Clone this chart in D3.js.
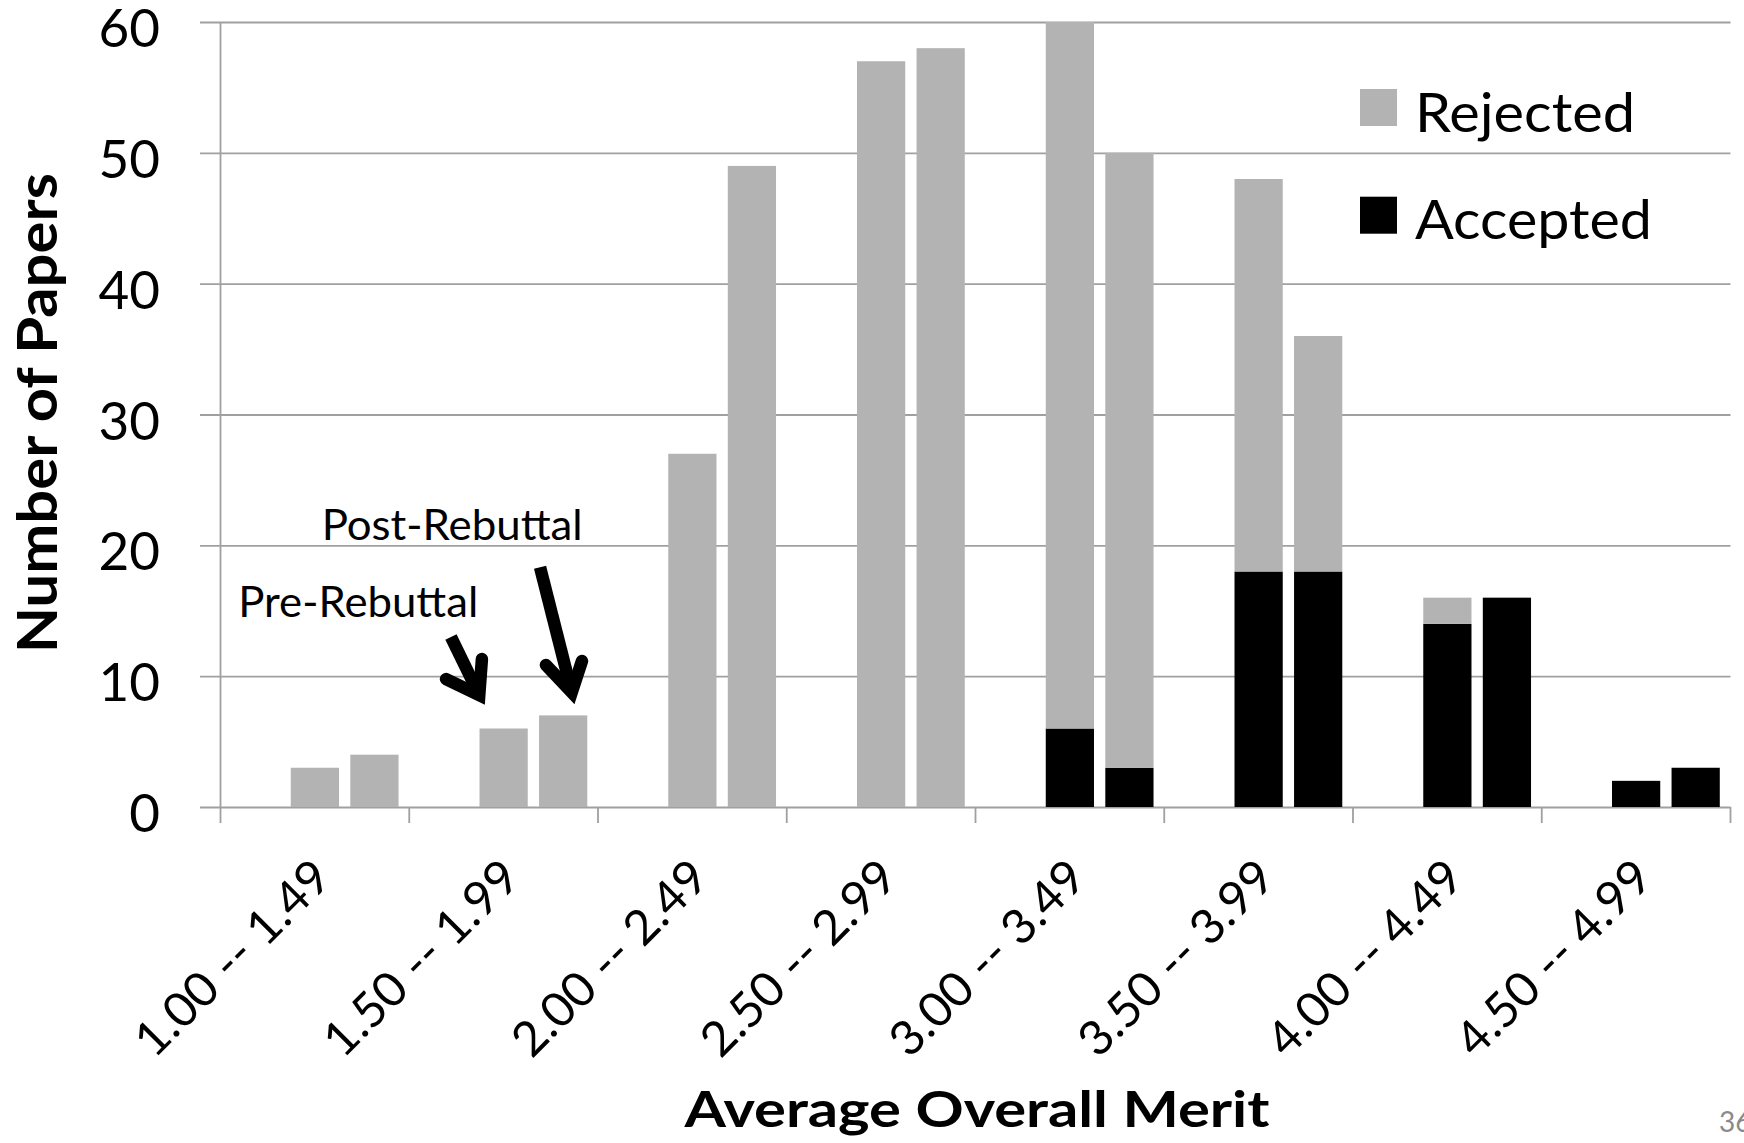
<!DOCTYPE html>
<html>
<head>
<meta charset="utf-8">
<script src="https://cdn.jsdelivr.net/npm/d3@7"></script>
<style>
  html, body { margin: 0; padding: 0; background: #fff; }
  svg { display: block; font-family: Lato, "Open Sans", sans-serif; }
</style>
</head>
<body>
<svg id="chart" width="1744" height="1143"></svg>
<script>
// ---------------- data ----------------
const categories = ["1.00 -- 1.49", "1.50 -- 1.99", "2.00 -- 2.49", "2.50 -- 2.99",
                    "3.00 -- 3.49", "3.50 -- 3.99", "4.00 -- 4.49", "4.50 -- 4.99"];
const phases = ["pre", "post"];
const preRejected  = [3, 6, 27, 57, 54, 30, 2, 0];
const preAccepted  = [0, 0, 0, 0, 6, 18, 14, 2];
const postRejected = [4, 7, 49, 58, 47, 18, 0, 0];
const postAccepted = [0, 0, 0, 0, 3, 18, 16, 3];
const yTicks = [0, 10, 20, 30, 40, 50, 60];
const legendItems = ["Rejected", "Accepted"];
const xTitle = "Average Overall Merit";
const yTitle = "Number of Papers";
// annotation arrows, in data coordinates (category index, value)
const preArrow  = {tail: [1.221, 13.00], tip: [1.371, 8.55], wingL: [1.195, 9.78], wingR: [1.385, 11.31]};
const postArrow = {tail: [1.693, 18.32], tip: [1.861, 8.76], wingL: [1.724, 10.85], wingR: [1.915, 11.16]};
const annoLabels = [
  {text: "Post-Rebuttal", at: [0.536, 20.41], len: 261},
  {text: "Pre-Rebuttal",  at: [0.094, 14.55], len: 240}
];
const pageNumber = "36";

(function () {
// ---------------- setup ----------------
const svg = d3.select("#chart");
const pLeft = 220.5, pRight = 1730.5, pTop = 22, pBottom = 807;
const GREY = "#b3b3b3", GRID = "#a0a0a0";

const x = d3.scaleBand().domain(categories).range([pLeft, pRight]).padding(0);
const x1 = d3.scaleBand().domain(["blank", "pre", "post"]).range([0, x.bandwidth()])
  .paddingInner(0.19).paddingOuter(0.18);
const y = d3.scaleLinear().domain([0, 60]).range([pBottom, pTop]);
const xi = d3.scaleLinear().domain([0, categories.length]).range([pLeft, pRight]);

svg.append("rect").attr("width", 1744).attr("height", 1143).attr("fill", "#fff");

// gridlines (extend left of axis as ticks)
const gridAxis = d3.axisLeft(y).tickValues(yTicks).tickSize(pRight - 200).tickFormat("");
svg.append("g").attr("transform", `translate(${pRight},0)`).call(gridAxis)
  .call(g => g.select(".domain").remove())
  .call(g => g.selectAll("line").attr("stroke", GRID).attr("stroke-width", 1.8));

// y tick labels
const yAxis = d3.axisLeft(y).tickValues(yTicks).tickSizeInner(0).tickSizeOuter(0).tickPadding(pLeft - 160);
svg.append("g").attr("transform", `translate(${pLeft},0)`).call(yAxis)
  .call(g => g.select(".domain").remove())
  .call(g => g.selectAll("line").remove())
  .call(g => g.selectAll("text")
    .attr("font-family", "Lato, sans-serif").attr("font-size", 53)
    .attr("fill", "#000").attr("dy", "0.465em"));

// y axis line
svg.append("line").attr("x1", pLeft).attr("x2", pLeft).attr("y1", y(60)).attr("y2", y(0))
  .attr("stroke", GRID).attr("stroke-width", 1.8);

// x ticks at category boundaries
const boundaries = d3.range(categories.length + 1).map(i => xi(i));
svg.append("g").selectAll("line").data(boundaries).join("line")
  .attr("x1", d => d).attr("x2", d => d)
  .attr("y1", y(0)).attr("y2", y(0) + 16)
  .attr("stroke", GRID).attr("stroke-width", 1.8);

// ---------------- bars ----------------
const barData = [];
categories.forEach((c, i) => {
  phases.forEach(p => {
    const acc = p === "pre" ? preAccepted[i] : postAccepted[i];
    const rej = p === "pre" ? preRejected[i] : postRejected[i];
    if (acc > 0) barData.push({c, p, y0: 0, y1: acc, color: "#000"});
    if (rej > 0) barData.push({c, p, y0: acc, y1: acc + rej, color: GREY});
  });
});
svg.append("g").selectAll("rect").data(barData).join("rect")
  .attr("x", d => x(d.c) + x1(d.p))
  .attr("width", x1.bandwidth())
  .attr("y", d => y(d.y1))
  .attr("height", d => y(d.y0) - y(d.y1))
  .attr("fill", d => d.color);

// ---------------- x tick labels ----------------
svg.append("g").selectAll("text").data(categories).join("text")
  .attr("transform", d => `translate(${x(d) + x.bandwidth() / 2 + 19},${y(0) + 73}) rotate(-45)`)
  .attr("text-anchor", "end")
  .attr("font-size", 48)
  .attr("textLength", 254).attr("lengthAdjust", "spacingAndGlyphs")
  .attr("fill", "#000")
  .text(d => d);

// ---------------- axis titles ----------------
svg.append("text")
  .attr("x", 977).attr("y", 1126.7)
  .attr("text-anchor", "middle")
  .attr("font-size", 49).attr("font-weight", "bold")
  .attr("textLength", 585).attr("lengthAdjust", "spacingAndGlyphs")
  .text(xTitle);

svg.append("text")
  .attr("transform", `translate(57,413) rotate(-90)`)
  .attr("text-anchor", "middle")
  .attr("font-size", 56).attr("font-weight", "bold")
  .attr("textLength", 480).attr("lengthAdjust", "spacingAndGlyphs")
  .text(yTitle);

// ---------------- legend ----------------
const legendColors = {Rejected: GREY, Accepted: "#000"};
const legendLens = {Rejected: 220, Accepted: 237};
const lg = svg.append("g").selectAll("g").data(legendItems).join("g")
  .attr("transform", (d, i) => `translate(1360,${89 + i * 107.7})`);
lg.append("rect").attr("width", 37).attr("height", 37).attr("fill", d => legendColors[d]);
lg.append("text").attr("x", 55).attr("y", 42.7)
  .attr("font-size", 54)
  .attr("textLength", d => legendLens[d]).attr("lengthAdjust", "spacingAndGlyphs")
  .text(d => d);

// ---------------- annotations ----------------
svg.append("g").selectAll("text").data(annoLabels).join("text")
  .attr("x", d => xi(d.at[0])).attr("y", d => y(d.at[1]))
  .attr("font-size", 42)
  .attr("textLength", d => d.len).attr("lengthAdjust", "spacingAndGlyphs")
  .text(d => d.text);

const pt = a => [xi(a[0]), y(a[1])];
[preArrow, postArrow].forEach(a => {
  const g = svg.append("g").attr("fill", "none").attr("stroke", "#000").attr("stroke-width", 12.5);
  g.append("path").attr("d", d3.line()([pt(a.tail), pt(a.tip)])).attr("stroke-linecap", "butt");
  g.append("path").attr("d", d3.line()([pt(a.wingL), pt(a.tip), pt(a.wingR)]))
    .attr("stroke-linecap", "round").attr("stroke-linejoin", "miter").attr("stroke-miterlimit", 10);
});

// page number
svg.append("text").attr("x", 1719).attr("y", 1131.7)
  .attr("font-size", 28).attr("fill", "#8a8a8a").text(pageNumber);
})();
</script>
</body>
</html>
